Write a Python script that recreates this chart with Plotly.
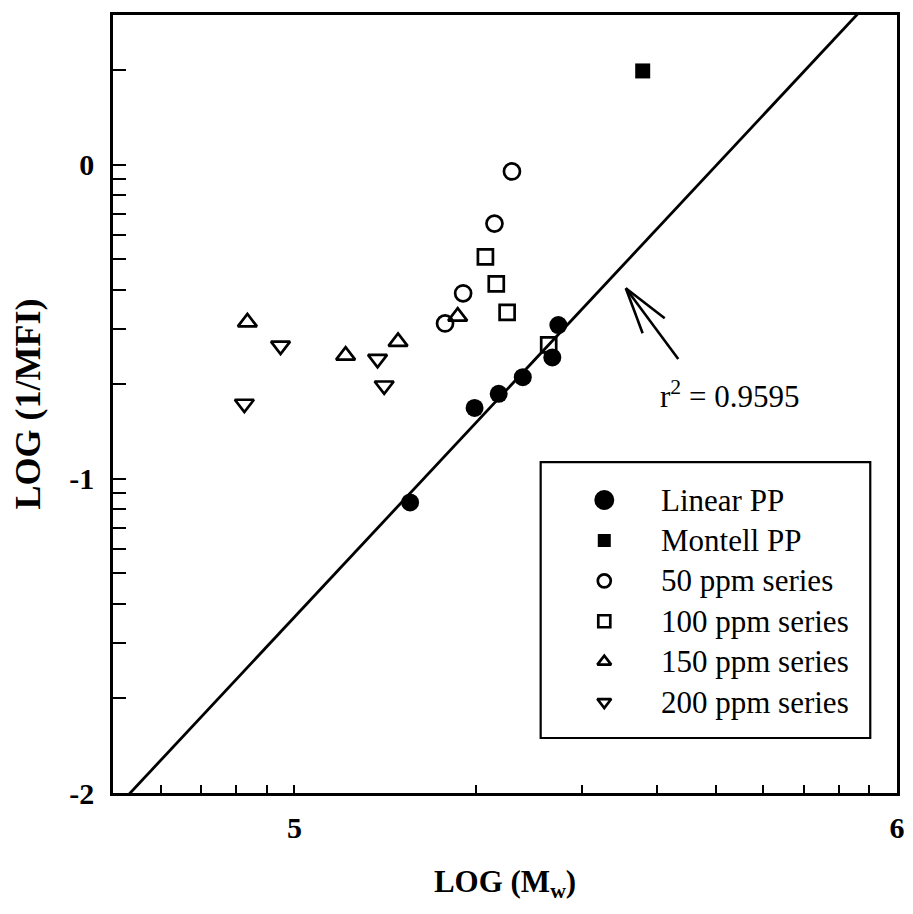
import numpy as np
import plotly.graph_objects as go

# ---- data: log10(Mw) vs log10(1/MFI) ----
linear_x = [5.192, 5.299, 5.339, 5.379, 5.428, 5.438]
linear_y = [-1.075, -0.774, -0.729, -0.676, -0.613, -0.510]

montell_x = [5.578]
montell_y = [0.299]

ppm50_x = [5.250, 5.280, 5.332, 5.361]
ppm50_y = [-0.505, -0.409, -0.187, -0.021]

ppm100_x = [5.317, 5.335, 5.353, 5.422]
ppm100_y = [-0.293, -0.379, -0.470, -0.573]

ppm150_x = [4.922, 5.085, 5.172, 5.271]
ppm150_y = [-0.501, -0.607, -0.563, -0.483]

ppm200_x = [4.917, 4.977, 5.138, 5.149]
ppm200_y = [-0.761, -0.576, -0.618, -0.703]

r_squared_label = "r<sup>2</sup> = 0.9595"

# axis extents and tick positions (log decades)
x_range = [np.log10(5e4), 6.0]
y_range = [-2.0, np.log10(3)]
x_major = [5, 6]
x_major_text = ["5", "6"]
y_major = [-2, -1, 0]
y_major_text = ["-2", "-1", "0"]
x_minor = [np.log10(k * 1e4) for k in range(6, 10)] + [np.log10(k * 1e5) for k in range(2, 10)]
y_minor = [np.log10(k) + d for d in (-2, -1) for k in range(2, 10)] + [np.log10(2)]

FONT = "Liberation Serif"
BLACK = "black"

fig = go.Figure()

# least-squares line through the linear PP points
slope, intercept = np.polyfit(linear_x, linear_y, 1)
fit_x = np.array(x_range)
fit_y = slope * fit_x + intercept
fig.add_trace(go.Scatter(x=fit_x, y=fit_y, mode="lines",
                         line=dict(color=BLACK, width=2.8), showlegend=False, hoverinfo="skip"))

series = [
    ("Linear PP", linear_x, linear_y, "circle", 18, 0),
    ("Montell PP", montell_x, montell_y, "square", 15, 0),
    ("50 ppm series", ppm50_x, ppm50_y, "circle-open", 16, 2.7),
    ("100 ppm series", ppm100_x, ppm100_y, "square-open", 15, 2.7),
    ("150 ppm series", ppm150_x, ppm150_y, "triangle-up-open", 16.5, 2.7),
    ("200 ppm series", ppm200_x, ppm200_y, "triangle-down-open", 16.5, 2.7),
]
for name, xs, ys, sym, size, lw in series:
    fig.add_trace(go.Scatter(x=xs, y=ys, mode="markers", name=name, showlegend=False,
                             marker=dict(symbol=sym, size=size, color=BLACK,
                                         line=dict(color=BLACK, width=lw))))

# boxed key drawn on its own hidden axes
legend_sizes = [20, 13, 13, 12, 12, 12]
for i, (name, _, _, sym, _, lw) in enumerate(series):
    fig.add_trace(go.Scatter(x=[0.193], y=[i], mode="markers", showlegend=False,
                             xaxis="x2", yaxis="y2", hoverinfo="skip",
                             marker=dict(symbol=sym, size=legend_sizes[i], color=BLACK,
                                         line=dict(color=BLACK, width=lw if lw else 0))))
    fig.add_annotation(x=0.36, y=i, xref="x2", yref="y2", text=name, showarrow=False,
                       xanchor="left", yanchor="middle",
                       font=dict(family=FONT, size=31, color=BLACK))

fig.add_shape(type="rect", xref="x2 domain", yref="y2 domain", x0=0, x1=1, y0=0, y1=1,
              line=dict(color=BLACK, width=2.2))

# pointer to the fitted line
arrow_tip = (5.550, -0.393)
arrow_tail = (5.637, -0.618)
arrow_wings = [(5.6145, -0.4887), (5.5779, -0.5364)]
fig.add_shape(type="line", x0=arrow_tail[0], y0=arrow_tail[1], x1=arrow_tip[0], y1=arrow_tip[1],
              line=dict(color=BLACK, width=2.6))
for wx, wy in arrow_wings:
    fig.add_shape(type="line", x0=arrow_tip[0], y0=arrow_tip[1], x1=wx, y1=wy,
                  line=dict(color=BLACK, width=2.6))

fig.add_annotation(x=5.603, y=-0.732, text=r_squared_label, showarrow=False,
                   xanchor="left", yanchor="middle",
                   font=dict(family=FONT, size=31, color=BLACK))

tickfont = dict(family=FONT, size=30, color=BLACK, weight="bold")

fig.update_layout(
    width=913, height=914,
    margin=dict(l=113, r=8, t=15, b=121),
    paper_bgcolor="white", plot_bgcolor="white",
    showlegend=False,
    xaxis=dict(range=x_range, tickmode="array", tickvals=x_major, ticktext=x_major_text,
               ticks="inside", ticklen=8, tickwidth=2, tickcolor=BLACK,
               minor=dict(tickvals=x_minor, ticks="inside", ticklen=8, tickwidth=2, tickcolor=BLACK),
               showline=True, linewidth=2.5, linecolor=BLACK, mirror=True,
               showgrid=False, zeroline=False, tickfont=tickfont, ticklabelstandoff=6,
               title=dict(text="LOG (M<sub>w</sub>)",
                          font=dict(family=FONT, size=31, color=BLACK, weight="bold"),
                          standoff=28)),
    yaxis=dict(range=y_range, tickmode="array", tickvals=y_major, ticktext=y_major_text,
               ticks="inside", ticklen=13, tickwidth=2, tickcolor=BLACK,
               minor=dict(tickvals=y_minor, ticks="inside", ticklen=13, tickwidth=2, tickcolor=BLACK),
               showline=True, linewidth=2.5, linecolor=BLACK, mirror=True,
               showgrid=False, zeroline=False, tickfont=tickfont, ticklabelstandoff=10,
               title=dict(text="LOG (1/MFI)",
                          font=dict(family=FONT, size=36, color=BLACK, weight="bold"),
                          standoff=18)),
    xaxis2=dict(domain=[0.5455, 0.9659], anchor="y2", range=[0, 1], visible=False),
    yaxis2=dict(domain=[0.0707, 0.4254], anchor="x2", range=[5.89, -0.94], visible=False),
)

fig.write_html("out.html")
